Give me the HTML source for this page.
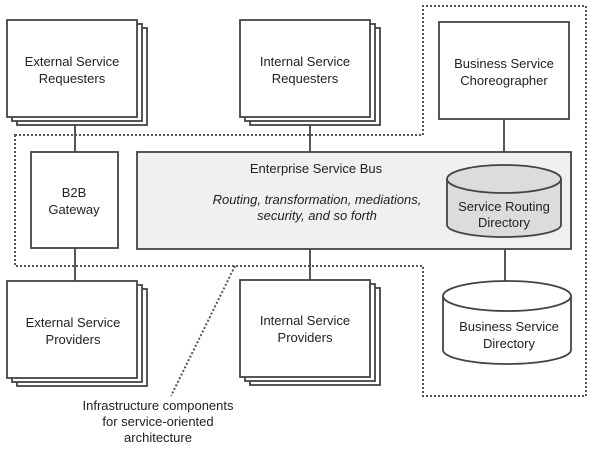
<!DOCTYPE html>
<html><head><meta charset="utf-8"><style>
html,body{margin:0;padding:0;background:#fff;}
svg{display:block;}
text{font-family:"Liberation Sans",Arial,sans-serif;font-size:13px;fill:#222;text-anchor:middle;}
</style></head><body>
<svg width="595" height="449" viewBox="0 0 595 449" xmlns="http://www.w3.org/2000/svg">
<g fill="none" stroke="#555" stroke-width="2" stroke-dasharray="2,2">
<path d="M15,135 H423 V6 H586 V396 H423 V266 H15 Z"/>
<path d="M235,266 L171,396"/>
</g>
<g stroke="#444" stroke-width="1.8">
<line x1="75" y1="117" x2="75" y2="152"/>
<line x1="75" y1="248" x2="75" y2="281"/>
<line x1="310" y1="117" x2="310" y2="152"/>
<line x1="310" y1="249" x2="310" y2="280"/>
<line x1="504" y1="119" x2="504" y2="152"/>
<line x1="505" y1="249" x2="505" y2="290"/>
</g>
<g fill="#fff" stroke="#444" stroke-width="1.8">
<rect x="17" y="28" width="130" height="97"/>
<rect x="12" y="24" width="130" height="97"/>
<rect x="7" y="20" width="130" height="97"/>
<rect x="250" y="28" width="130" height="97"/>
<rect x="245" y="24" width="130" height="97"/>
<rect x="240" y="20" width="130" height="97"/>
<rect x="439" y="22" width="130" height="97"/>
<rect x="17" y="289" width="130" height="97"/>
<rect x="12" y="285" width="130" height="97"/>
<rect x="7" y="281" width="130" height="97"/>
<rect x="250" y="288" width="130" height="97"/>
<rect x="245" y="284" width="130" height="97"/>
<rect x="240" y="280" width="130" height="97"/>
<rect x="31" y="152" width="87" height="96"/>
<rect x="137" y="152" width="434" height="97" fill="#f0f0f0"/>
<path d="M447,179 V225 A57,12 0 0 0 561,225 V179" fill="#dcdcdc"/>
<ellipse cx="504" cy="179" rx="57" ry="14" fill="#dcdcdc"/>
<path d="M443,296 V350 A64,14 0 0 0 571,350 V296"/>
<ellipse cx="507" cy="296" rx="64" ry="15"/>
</g>
<text x="72" y="66">External Service</text>
<text x="72" y="83">Requesters</text>
<text x="305" y="66">Internal Service</text>
<text x="305" y="83">Requesters</text>
<text x="504" y="68">Business Service</text>
<text x="504" y="85">Choreographer</text>
<text x="74" y="197">B2B</text>
<text x="74" y="214">Gateway</text>
<text x="316" y="173">Enterprise Service Bus</text>
<text x="317" y="204" font-style="italic">Routing, transformation, mediations,</text>
<text x="317" y="220" font-style="italic">security, and so forth</text>
<text x="504" y="211">Service Routing</text>
<text x="504" y="227">Directory</text>
<text x="509" y="331">Business Service</text>
<text x="509" y="348">Directory</text>
<text x="73" y="327">External Service</text>
<text x="73" y="344">Providers</text>
<text x="305" y="325">Internal Service</text>
<text x="305" y="342">Providers</text>
<text x="158" y="410">Infrastructure components</text>
<text x="158" y="426">for service-oriented</text>
<text x="158" y="442">architecture</text>
</svg>
</body></html>
